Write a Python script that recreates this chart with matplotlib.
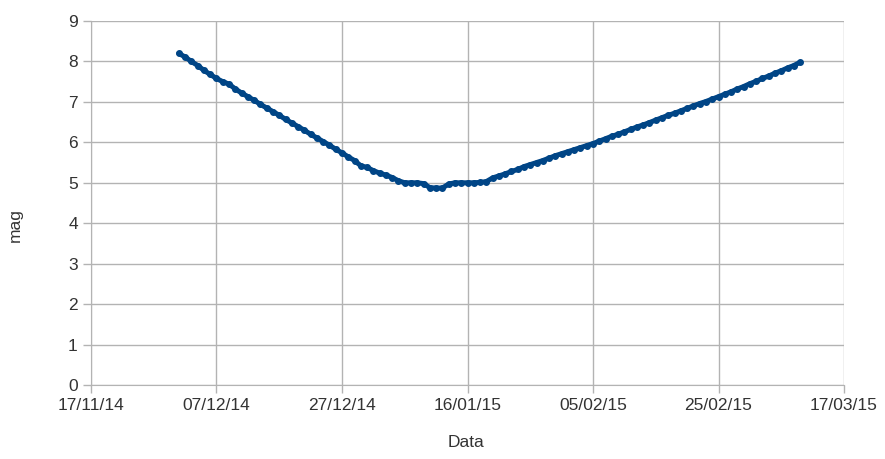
#!/usr/bin/env python3

import matplotlib
matplotlib.use("Agg")
import matplotlib.pyplot as plt
import matplotlib.dates as mdates
from datetime import date, timedelta

# daily magnitudes, 01/12/14 .. 10/03/15
start_day = date(2014, 12, 1)
mag = [8.20, 8.11, 8.00, 7.90, 7.78, 7.68, 7.58, 7.50, 7.44,
       7.32, 7.22, 7.13, 7.04, 6.94, 6.85, 6.76, 6.67, 6.57, 6.48,
       6.39, 6.30, 6.20, 6.11, 6.02, 5.93, 5.83, 5.74, 5.64, 5.55,
       5.42, 5.38, 5.30, 5.24, 5.19, 5.13, 5.05, 5.00, 5.00, 5.00,
       4.98, 4.88, 4.87, 4.87, 4.97, 5.00, 5.00, 5.00, 5.00, 5.01,
       5.03, 5.12, 5.17, 5.22, 5.28, 5.33, 5.40, 5.45, 5.50, 5.55,
       5.61, 5.67, 5.72, 5.77, 5.82, 5.87, 5.92, 5.97, 6.03, 6.09,
       6.15, 6.20, 6.26, 6.32, 6.38, 6.43, 6.49, 6.55, 6.61, 6.67,
       6.72, 6.78, 6.84, 6.90, 6.96, 7.01, 7.07, 7.13, 7.19, 7.25,
       7.32, 7.38, 7.45, 7.51, 7.58, 7.64, 7.71, 7.77, 7.84, 7.90,
       7.98]
days = [start_day + timedelta(days=i) for i in range(len(mag))]

x_ticks = [date(2014, 11, 17) + timedelta(days=20 * i) for i in range(7)]
y_ticks = list(range(0, 10))

plt.rcParams['font.family'] = ['Liberation Sans', 'DejaVu Sans']

fig = plt.figure(figsize=(8.85, 4.59), dpi=100)
ax = fig.add_axes([0.1028, 0.1612, 0.8509, 0.793])

ax.plot(days, mag, '-', color='#004586', lw=3.6, marker='o', ms=4,
        solid_capstyle='round', solid_joinstyle='round', zorder=3)

ax.set_xlim(x_ticks[0], x_ticks[-1])
ax.set_ylim(0, 9)
ax.set_xticks(x_ticks)
ax.xaxis.set_major_formatter(mdates.DateFormatter('%d/%m/%y'))
ax.set_yticks(y_ticks)

ax.grid(True, color='#b3b3b3', lw=1)
ax.set_axisbelow(True)
for s in ['top', 'right']:
    ax.spines[s].set_visible(False)
for s in ['left', 'bottom']:
    ax.spines[s].set_color('#b3b3b3')
ax.tick_params(colors='#b3b3b3', labelcolor='#333333', labelsize=12.5,
               length=6, width=1)
ax.tick_params(axis='x', pad=3)

fig.text(0.5265, 0.02, 'Data', ha='center', va='bottom', fontsize=12.5,
         color='#333333')
fig.text(0.017, 0.51, 'mag', rotation=90, ha='center', va='center',
         fontsize=12.5, color='#333333')

plt.savefig('out.png', dpi=100)
